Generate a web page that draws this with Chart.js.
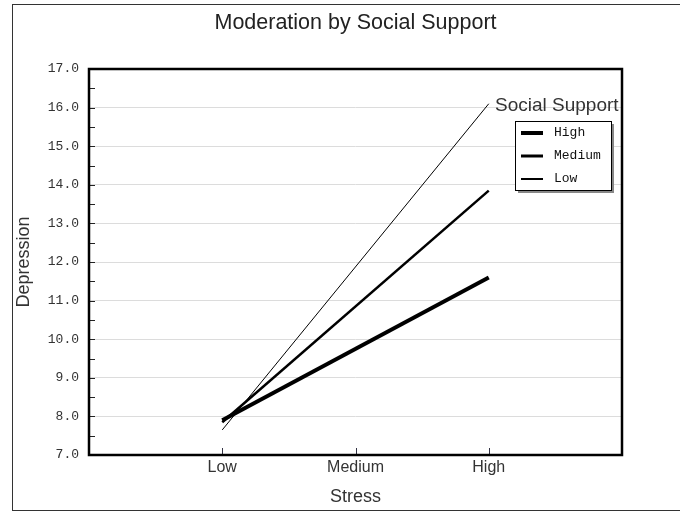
<!DOCTYPE html>
<html lang="en">
<head>
    <meta charset="UTF-8">
    <title>Moderation by Social Support</title>
    <style>
        html, body { margin: 0; padding: 0; background: #fff; }
        #chart-container { width: 680px; height: 514px; }
    </style>
    <script src="https://cdn.jsdelivr.net/npm/chart.js"></script>
</head>
<body>
    <div id="chart-container">
        <canvas id="mod-chart" width="680" height="514"></canvas>
    </div>
    <script>
        // Stress levels on the x axis (position 1..3 on a 0..4 scale)
        const stressLevels = ['Low', 'Medium', 'High'];
        const stressPoints = [1, 3]; // Low and High stress
        // Depression values per social support group
        const highSupport = [7.9, 11.6];
        const mediumSupport = [7.85, 13.85];
        const lowSupport = [7.65, 16.1];
        const groupNames = ['High', 'Medium', 'Low'];
        const lineWidths = [4, 2.5, 1];
        const legendWidths = [4, 3, 2];

        const monoFont = '"Liberation Mono", "DejaVu Sans Mono", monospace';
        const sansFont = '"Liberation Sans", Arial, sans-serif';

        function toPoints(values) {
            return values.map((v, i) => ({ x: stressPoints[i], y: v }));
        }

        // Frame, inner ticks, plot border and the legend box
        const extras = {
            id: 'extras',
            afterLayout(chart) {
                // center the title over the plot area
                chart.titleBlock.left = chart.chartArea.left;
                chart.titleBlock.right = chart.chartArea.right;
            },
            beforeDraw(chart) {
                const c = chart.ctx;
                c.save();
                c.fillStyle = '#fff';
                c.fillRect(0, 0, chart.width, chart.height);
                c.strokeStyle = '#333';
                c.lineWidth = 1;
                c.strokeRect(12.5, 4.5, chart.width + 10, 506);
                c.restore();
            },
            afterDraw(chart) {
                const c = chart.ctx;
                const a = chart.chartArea;
                const ys = chart.scales.y;
                const xs = chart.scales.x;
                c.save();
                // minor + major ticks inside on the y axis
                c.strokeStyle = '#222';
                c.lineWidth = 1;
                for (let v = 7; v <= 17.001; v += 0.5) {
                    const py = Math.round(ys.getPixelForValue(v)) + 0.5;
                    c.beginPath();
                    c.moveTo(a.left, py);
                    c.lineTo(a.left + 6, py);
                    c.stroke();
                }
                // x ticks inside
                c.strokeStyle = '#334';
                stressLevels.forEach((s, i) => {
                    const px = Math.round(xs.getPixelForValue(i + 1)) + 0.5;
                    c.beginPath();
                    c.moveTo(px, a.bottom);
                    c.lineTo(px, a.bottom - 7);
                    c.stroke();
                });
                // plot border
                c.strokeStyle = '#000';
                c.lineWidth = 2.5;
                c.strokeRect(a.left, a.top, a.right - a.left, a.bottom - a.top);

                // legend title
                c.fillStyle = '#333';
                c.font = '19px ' + sansFont;
                c.textBaseline = 'alphabetic';
                c.textAlign = 'left';
                c.fillText('Social Support', a.right - 127, a.top + 42);

                // legend box with shadow
                const bx = a.right - 107, by = a.top + 52, bw = 96, bh = 69;
                c.fillStyle = '#888';
                c.fillRect(bx + 3, by + 3, bw, bh);
                c.fillStyle = '#fff';
                c.fillRect(bx, by, bw, bh);
                c.strokeStyle = '#000';
                c.lineWidth = 1;
                c.strokeRect(bx + 0.5, by + 0.5, bw, bh);
                c.font = '13px ' + monoFont;
                c.textBaseline = 'middle';
                chart.data.datasets.forEach((ds, i) => {
                    const ry = by + 12 + i * 23;
                    c.strokeStyle = '#000';
                    c.lineWidth = legendWidths[i];
                    c.beginPath();
                    c.moveTo(bx + 6, ry);
                    c.lineTo(bx + 28, ry);
                    c.stroke();
                    c.fillStyle = '#111';
                    c.fillText(ds.label, bx + 39, ry);
                });
                c.restore();
            }
        };

        const datasets = [highSupport, mediumSupport, lowSupport].map((vals, i) => ({
            label: groupNames[i],
            data: toPoints(vals),
            borderColor: '#000',
            backgroundColor: '#000',
            borderWidth: lineWidths[i],
            pointRadius: 0,
            tension: 0
        }));

        new Chart(document.getElementById('mod-chart'), {
            type: 'line',
            data: { datasets },
            plugins: [extras],
            options: {
                responsive: false,
                animation: false,
                layout: { padding: { left: 13, right: 58, top: 0, bottom: 6 } },
                plugins: {
                    legend: { display: false },
                    tooltip: { enabled: false },
                    title: {
                        display: true,
                        text: 'Moderation by Social Support',
                        color: '#222',
                        font: { family: sansFont, size: 21.5, weight: 'normal' },
                        padding: { top: 10, bottom: 33.2 }
                    }
                },
                scales: {
                    x: {
                        type: 'linear',
                        min: 0,
                        max: 4,
                        grid: { display: false, drawTicks: false },
                        border: { display: false },
                        afterFit: s => { s.height = 53; },
                        ticks: {
                            stepSize: 1,
                            padding: 3,
                            maxRotation: 0,
                            color: '#333',
                            font: { family: sansFont, size: 16 },
                            callback: v => stressLevels[v - 1] || ''
                        },
                        title: {
                            display: true,
                            text: 'Stress',
                            color: '#333',
                            font: { family: sansFont, size: 18 },
                            padding: { top: 2, bottom: 0 }
                        }
                    },
                    y: {
                        min: 7,
                        max: 17,
                        grid: { color: '#dcdcdc', drawTicks: false },
                        border: { display: false },
                        afterFit: s => { s.width = 76; },
                        ticks: {
                            stepSize: 1,
                            padding: 10,
                            color: '#333',
                            font: { family: monoFont, size: 13 },
                            callback: v => Number(v).toFixed(1)
                        },
                        title: {
                            display: true,
                            text: 'Depression',
                            color: '#333',
                            font: { family: sansFont, size: 18 },
                            padding: { top: 0, bottom: 0 }
                        }
                    }
                }
            }
        });
    </script>
</body>
</html>
